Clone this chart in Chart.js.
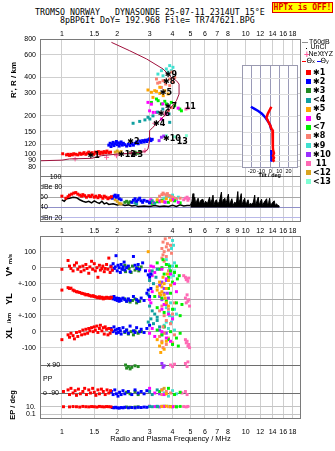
<!DOCTYPE html>
<html><head><meta charset="utf-8">
<script src="https://cdn.jsdelivr.net/npm/chart.js@4/dist/chart.umd.min.js"></script>
<style>
body{margin:0;width:335px;height:451px;overflow:hidden;background:#fff;position:relative;font-family:"Liberation Sans",Arial,sans-serif;}
canvas{position:absolute;}
.t{position:absolute;white-space:pre;color:#000;line-height:10px;}
.rot{position:absolute;white-space:pre;transform:translate(-50%,-50%) rotate(-90deg);font-weight:bold;color:#000;}
.sq{position:absolute;width:5px;height:5px;}
.lg{position:absolute;white-space:pre;font:bold 8px "DejaVu Sans",sans-serif;line-height:10px;}
</style></head><body>
<div class="t" style="left:35px;top:7px;font:8.3px 'DejaVu Sans Mono',monospace;">TROMSO NORWAY   DYNASONDE 25-07-11 2314UT 15°E</div>
<div class="t" style="left:60px;top:15px;font:8.3px 'DejaVu Sans Mono',monospace;">8pBP6It DoY= 192.968 File= TR747621.BPG</div>
<div style="position:absolute;left:272px;top:2px;width:59px;height:9px;border:1px solid #e00000;background:#ffff00;color:#e00000;font:bold 8px 'DejaVu Sans Mono',monospace;line-height:9px;text-align:center;">HPTx is OFF!</div>
<canvas id="cA" width="305" height="200" style="left:0;top:26px"></canvas>
<canvas id="cC" width="305" height="227" style="left:0;top:224px"></canvas>
<canvas id="cB" width="66" height="120" style="left:236px;top:62px"></canvas>
<div class="rot" style="left:13px;top:80px;font-size:8px;">R', R / km</div>
<div class="rot" style="left:9px;top:265px;font-size:9px;">V* <span style="font-size:6px">m/s</span></div>
<div class="rot" style="left:9px;top:299px;font-size:9px;">YL</div>
<div class="rot" style="left:9px;top:318px;font-size:6px;">/km</div>
<div class="rot" style="left:9px;top:333px;font-size:9px;">XL</div>
<div class="rot" style="left:12px;top:405px;font-size:7.5px;">EP / deg</div>
<div id="legend"></div>
<script>
// ---------------- data ----------------
const categories = ['\u27311','\u27312','\u27313','<4','\u27315',' 6','<7','\u27318','\u27319','\u273110',' 11','<12','<13'];
const catColors = ['#ff0000','#0000ff','#228b22','#10a0a0','#ffa500','#ff00ff','#00ee00','#fa8072','#40e0d0','#9b30ff','#ff69b4','#daa520','#7fffd4'];

const freqTicksTop = [1,1.5,2,3,4,5,6,7,8,10,12,14,16,18];
const freqTicksMid = [1,1.5,2,3,4,5,6,7,8,9,10,12,14,16,18];
const freqTicksBot = [1,1.5,2,3,4,5,6,7,8,10,12,14,16,18];
const heightTicks = [80,90,100,120,150,200,300,400,600,800];
const ampTicks = [100,80,60,40,20];
const ampLabels = ['     100','dBe 80','60','40','dBn 20'];
const velTicks = [100,0,-100,-200,-300,-400,-500];
const velLabels = ['100','0','+-100','0','+-100','0','-100'];
const ppTicks = [90,0,-90];
const ppLabels = ['  x 90','PP','o -90'];
const epTicks = [10,0.1];
const epLabels = ['10.','0.1'];
const tiltTicks = [-20,-10,0,10,20];

// model trace (freq MHz, height km)
const traceF = [0.76,1.0,1.1,1.45,1.64,2.02,2.49,2.83,2.94,3.0,3.0,3.13,3.55,3.86,4.2,4.34,4.34,4.2,3.94,3.55,2.89,2.34,1.86];
const traceH = [89,90,92,93,97.5,100.5,102.4,104.8,110,127.8,153,163,195,226,263,296,355,377,400,466,558,647,753];
// NeXtYZ markers
const nextF = [1.18,1.75,1.98,2.39,2.83,3.2,3.63];
const nextH = [92,94.7,97.5,103.7,106.7,175,207];

// echo heights per category [freq, km]
const heightPts = [
 [[1.01,101],[1.06,99],[1.08,100],[1.1,98],[1.12,100],[1.14,99],[1.16,101],[1.19,100],[1.22,99],[1.25,102],[1.27,100],[1.3,101],[1.32,103],[1.35,100],[1.38,102],[1.4,104],[1.43,101],[1.46,103],[1.49,100],[1.52,104],[1.55,102],[1.58,105],[1.61,101],[1.64,104],[1.67,102],[1.7,105],[1.73,103],[1.76,106],[1.8,103],[1.84,104]],
 [[1.8,118],[1.83,122],[1.85,115],[1.88,120],[1.9,124],[1.92,117],[1.95,121],[1.98,126],[2.0,119],[2.03,123],[2.05,116],[2.08,121],[2.1,125],[2.13,118],[2.16,122],[2.2,119],[2.25,116],[2.3,120],[2.35,117],[2.4,121],[2.45,118],[2.5,122],[2.55,125],[2.6,121],[2.65,127],[2.7,124],[2.75,128],[2.8,125],[2.85,129],[2.9,126],[2.95,130],[3.0,132],[3.05,128],[3.1,131]],
 [[2.35,103],[2.42,101],[2.5,104],[2.58,102],[2.65,105]],
 [[2.44,175],[2.65,181],[2.83,186],[2.94,195],[3.01,189],[3.13,200],[3.32,214],[3.54,226],[3.83,207],[3.86,178]],
 [[2.94,319],[3.07,306],[3.13,279],[3.2,315],[3.27,311],[3.41,300],[3.41,335],[3.56,288],[3.63,315],[3.78,297]],
 [[2.94,255],[3.0,219],[3.07,247],[3.14,213],[3.27,213],[3.48,189],[3.54,248],[3.7,207],[4.29,230]],
 [[3.07,255],[3.27,271],[3.34,263],[3.48,248],[3.63,260],[3.7,248],[3.94,255],[4.11,240],[4.38,226],[4.47,219]],
 [[3.27,389],[3.32,361],[3.41,366],[3.48,334],[3.55,377],[3.63,377],[3.67,355],[3.86,389],[3.86,345],[3.96,441],[4.02,366],[4.11,400],[3.8,220],[3.95,232]],
 [[3.33,425],[3.48,452],[3.55,412],[3.7,466],[3.78,441],[3.86,495],[3.94,452],[4.02,480]],
 [[3.38,128],[3.48,136],[3.58,139]],
 [[4.73,226],[4.86,230]],
 [[1.95,104],[2.0,106],[2.05,103],[2.1,105]],
 [[3.7,140],[4.11,137],[4.76,140]]
];
// echo label annotations
const annF = [1.38,2.27,2.02,2.37,3.13,3.32,3.63,4.66,3.41,3.55,3.63,3.55,4.21];
const annH = [97,124,98.8,98.8,173,209,236,236,300,366,420,132,124];
const annText = ['\u27311','\u27312','\u273112','\u27313','\u27314','\u27316','\u27317','11','\u27315','\u27318','\u27319','\u273110','13'];

// amplitude trace (freq, dB)
const ampLine = [[1.0,55],[1.03,52],[1.06,57],[1.1,58],[1.15,60],[1.2,59],[1.25,55],[1.3,52],[1.35,50],[1.4,52],[1.45,49],[1.5,53],[1.55,50],[1.6,48],[1.65,52],[1.7,47],[1.75,49],[1.8,46],[1.9,47],[2.0,45],[2.1,46],[2.2,44],[2.3,45],[2.4,43],[2.5,44],[2.6,42],[2.8,43],[3.0,42],[3.2,44],[3.4,42],[3.6,43],[3.8,42],[4.0,44],[4.2,42],[4.4,45],[4.6,43],[4.8,44],[5.0,44]];
const ampSpikes = [[5.0,44],[5.1,52],[5.17,67],[5.22,45],[5.28,60],[5.35,46],[5.45,55],[5.51,58],[5.6,47],[5.7,54],[5.85,56],[5.95,46],[6.05,52],[6.2,48],[6.36,60],[6.45,47],[6.55,55],[6.64,64],[6.72,45],[6.83,52],[6.93,55],[7.05,46],[7.2,52],[7.38,70],[7.45,46],[7.55,55],[7.71,58],[7.8,46],[7.9,54],[8.05,66],[8.15,45],[8.3,52],[8.41,57],[8.55,44],[8.7,50],[8.9,48],[9.06,71],[9.15,46],[9.3,55],[9.46,67],[9.55,45],[9.7,52],[9.87,58],[10.0,45],[10.15,50],[10.3,55],[10.45,44],[10.6,48],[10.8,46],[11.0,50],[11.2,64],[11.3,44],[11.5,52],[11.7,60],[11.85,44],[12.0,50],[12.2,56],[12.35,44],[12.6,50],[13.0,57],[13.15,44],[13.35,50],[13.5,58],[13.65,44],[13.9,48],[14.3,53],[14.5,43],[14.7,47],[14.9,45],[15.3,42]];
const ampPts = [
 [[1.0,62],[1.05,58],[1.08,61],[1.1,64],[1.13,66],[1.16,68],[1.19,69],[1.22,66],[1.25,64],[1.28,62],[1.3,65],[1.33,63],[1.36,60],[1.4,63],[1.43,61],[1.46,64],[1.5,60],[1.53,62],[1.57,59],[1.6,63],[1.63,61],[1.67,58],[1.7,62],[1.74,60],[1.78,57],[1.82,59],[1.86,61]],
 [[1.88,58],[1.92,62],[1.95,64],[1.98,60],[2.02,63],[2.05,57],[2.1,55],[2.4,50],[2.45,54],[2.5,57],[2.55,52],[2.6,55],[2.65,58],[2.7,53],[2.75,50],[2.8,54],[2.9,52],[3.0,49]],
 [[2.2,50],[2.25,52],[2.3,49],[2.35,51]],
 [[2.5,49],[2.55,47],[3.0,50],[3.1,53],[3.2,48]],
 [[3.3,55],[3.5,52],[3.7,57],[3.9,54]],
 [[3.0,52],[3.05,55],[3.15,50],[3.4,53],[3.6,51],[4.0,55],[4.3,50]],
 [[3.1,48],[3.3,51],[3.5,54],[3.8,50],[4.1,53],[4.4,49]],
 [[3.4,62],[3.5,65],[3.55,68],[3.6,66],[3.7,64],[3.75,67],[3.85,63],[3.95,61],[4.05,59],[4.2,57],[4.4,58]],
 [[3.6,58],[3.7,61],[3.8,63],[3.9,60],[4.0,64],[4.1,58],[4.2,55],[4.3,60]],
 [[3.4,51],[3.5,54],[3.65,50]],
 [[4.6,55],[4.7,58],[4.8,60],[4.85,54],[4.9,57]],
 [[1.95,55],[2.0,52],[2.05,48],[2.1,47]],
 [[3.9,56],[4.1,53]]
];

// tilt inset (deg, km)
const tiltX = [[1.3,240],[-0.5,226],[-2.5,212],[-4,197],[-2,183],[0,172],[1.3,162],[2.5,158],[2.8,140],[3,125],[3,115],[3.2,110],[4.2,104],[3,99],[4.2,96],[3.2,92],[4.5,89]];
const tiltY = [[-21,240],[-17,231],[-13,222],[-9,212],[-5,197],[-2,183],[0,172],[1.3,158],null,[1.2,110],[1.6,104],[1.2,98],[1.6,92],[1.3,89]];

// velocities V* (m/s)
const velPts = [
 [[1.0,-10],[1.08,45],[1.1,10],[1.12,-5],[1.15,-20],[1.17,15],[1.2,30],[1.22,-10],[1.25,5],[1.27,-25],[1.3,10],[1.32,-15],[1.35,20],[1.37,-5],[1.4,-35],[1.42,5],[1.45,40],[1.47,-10],[1.5,25],[1.52,-20],[1.55,0],[1.57,-60],[1.6,15],[1.62,-15],[1.65,-5],[1.67,10],[1.7,-25],[1.72,-5],[1.75,20],[1.78,-10],[1.8,60],[1.83,-30],[1.85,5],[1.88,-15]],
 [[1.85,10],[1.88,-15],[1.9,25],[1.93,-5],[1.95,5],[1.97,75],[2.0,-20],[2.02,15],[2.05,0],[2.08,-30],[2.1,20],[2.12,-10],[2.15,5],[2.18,35],[2.2,-15],[2.25,0],[2.3,10],[2.35,-25],[2.45,70],[2.5,15],[2.55,-5],[2.6,20],[2.65,-10],[2.75,30],[2.85,-20],[2.95,-45],[3.0,-60],[3.05,-40]],
 [[2.15,-10],[2.2,15],[2.22,-25],[2.28,5],[2.32,-5],[2.38,-30],[2.42,10],[2.5,-15],[2.58,0],[2.62,-20],[2.7,5]],
 [[3.0,-80],[3.05,-40],[3.15,-100],[3.25,-60],[3.3,-10],[3.1,-20]],
 [[2.95,100],[3.3,-120],[3.4,-90],[3.5,-150],[3.55,-60],[3.6,-100],[3.7,-130],[3.75,-40],[3.8,-80],[3.9,-110],[3.45,-170],[3.65,-190]],
 [[3.0,-20],[3.05,10],[3.1,-50],[3.2,-30],[3.5,-10],[3.7,-70],[3.9,-40],[4.1,-100],[4.2,-150],[3.15,5]],
 [[3.3,30],[3.4,-10],[3.5,0],[3.6,-40],[3.7,20],[3.8,-60],[3.9,-20],[4.0,-90],[4.1,-30],[4.2,10],[4.35,-50],[3.55,50],[3.85,10],[4.25,-70]],
 [[3.5,120],[3.55,160],[3.6,100],[3.65,180],[3.7,130],[3.75,150],[3.8,110],[3.85,190],[3.9,140],[3.95,90],[3.5,60],[3.6,40],[3.8,-20],[3.55,80],[3.7,70]],
 [[3.7,50],[3.8,20],[3.9,-30],[4.0,10],[4.05,-50],[3.95,120],[4.0,170],[4.05,140],[3.85,-10],[4.1,30]],
 [[3.4,-110],[3.5,-90],[3.6,-130],[3.7,-80],[3.75,-160]],
 [[4.6,-50],[4.7,-60],[4.75,-75],[4.8,-70],[4.85,-85],[4.9,-65]],
 [],
 [[3.9,-60],[4.1,-20]]
];
// YL (km)
const ylPts = [
 [[1.0,60],[1.08,75],[1.1,70],[1.12,72],[1.15,60],[1.17,55],[1.2,50],[1.22,48],[1.25,45],[1.28,40],[1.3,38],[1.33,35],[1.35,30],[1.38,32],[1.4,28],[1.42,25],[1.45,22],[1.48,25],[1.5,20],[1.52,18],[1.55,15],[1.57,12],[1.6,18],[1.62,10],[1.65,15],[1.68,5],[1.7,12],[1.72,8],[1.75,15],[1.78,10],[1.8,12],[1.83,8],[1.86,15]],
 [[1.85,15],[1.9,5],[1.92,20],[1.95,0],[1.98,10],[2.0,-5],[2.03,8],[2.05,-10],[2.08,5],[2.1,-5],[2.15,10],[2.2,0],[2.25,-10],[2.3,5],[2.35,-5],[2.45,20],[2.55,0],[2.6,-10],[2.7,10],[2.8,-5],[2.9,40],[2.95,60],[3.0,20],[3.05,70]],
 [[2.2,5],[2.25,-10],[2.3,0],[2.35,-15],[2.42,-5],[2.5,5],[2.55,-20],[2.65,-10]],
 [[2.95,30],[3.0,-40],[3.1,-70],[3.2,-90],[3.3,-110]],
 [[3.3,60],[3.4,40],[3.5,80],[3.6,30],[3.7,-20],[3.8,-40],[3.45,100]],
 [[3.0,0],[3.05,-20],[3.1,50],[3.5,-60],[3.6,-30],[3.8,-90],[4.0,-120]],
 [[3.2,20],[3.3,-50],[3.5,10],[3.6,-80],[3.7,-10],[3.9,40],[4.0,-60],[4.2,-20],[4.4,-100],[4.5,-30],[3.8,70]],
 [[3.4,-70],[3.5,-40],[3.6,-100],[3.7,-130],[3.8,-60],[3.9,-150],[4.0,-90],[4.1,-20],[3.55,-170]],
 [[3.7,-50],[3.8,-80],[3.9,-20],[4.0,-110],[4.1,-60],[4.2,-90],[3.95,-140]],
 [[3.4,20],[3.5,0],[3.6,40],[3.7,-30],[3.8,10]],
 [[4.7,10],[4.75,-20],[4.8,30],[4.85,-10],[4.9,0],[4.95,-40]],
 [],
 []
];
// XL (km)
const xlPts = [
 [[1.0,-50],[1.08,-20],[1.1,-35],[1.12,-10],[1.15,-25],[1.17,-45],[1.2,-5],[1.22,-30],[1.25,0],[1.28,-20],[1.3,10],[1.33,-15],[1.35,15],[1.38,-10],[1.4,20],[1.42,5],[1.45,25],[1.48,0],[1.5,30],[1.52,10],[1.55,35],[1.57,-5],[1.6,20],[1.62,40],[1.65,5],[1.68,25],[1.7,-15],[1.72,30],[1.75,15],[1.78,-20],[1.8,20],[1.83,-10],[1.86,10]],
 [[1.85,20],[1.9,0],[1.92,30],[1.95,10],[1.98,-10],[2.0,15],[2.03,-5],[2.05,20],[2.08,5],[2.1,-15],[2.15,25],[2.2,0],[2.25,10],[2.3,-10],[2.35,35],[2.45,5],[2.5,-5],[2.55,25],[2.65,0],[2.7,15],[2.8,-5],[2.9,20],[3.0,40]],
 [[2.2,-5],[2.25,10],[2.3,-15],[2.38,0],[2.45,-20],[2.5,5],[2.6,-10],[2.7,0]],
 [[2.95,60],[3.05,80],[3.15,50],[3.3,70],[3.4,30]],
 [[3.3,-50],[3.4,-90],[3.5,-70],[3.6,-110],[3.7,-60],[3.45,-130]],
 [[3.0,-10],[3.1,20],[3.2,-30],[3.5,0],[3.7,-40],[3.9,-60]],
 [[3.3,10],[3.5,-20],[3.6,30],[3.8,-50],[3.9,0],[4.0,-80],[4.2,-40],[4.4,-10],[4.3,-90]],
 [[3.4,-30],[3.5,-60],[3.6,-10],[3.7,-80],[3.8,-40],[4.0,-70],[4.1,-20],[3.55,-100]],
 [[3.6,40],[3.7,60],[3.8,20],[3.9,50],[4.0,80],[4.1,10],[3.85,100]],
 [[3.4,10],[3.5,-20],[3.6,30],[3.7,-10]],
 [[4.7,-50],[4.75,-70],[4.8,-60],[4.85,-90],[4.9,-80],[4.95,-100]],
 [],
 []
];
// polarisation PP (deg)
const ppPts = [
 [[1.02,-80],[1.08,-70],[1.1,-100],[1.12,-60],[1.15,-90],[1.18,-75],[1.2,-105],[1.23,-65],[1.26,-95],[1.3,-80],[1.33,-60],[1.36,-100],[1.4,-70],[1.43,-90],[1.47,-60],[1.5,-85],[1.53,-105],[1.57,-70],[1.6,-95],[1.64,-65],[1.68,-80],[1.72,-100],[1.76,-70],[1.8,-90],[1.84,-75]],
 [[1.86,-80],[1.9,-100],[1.94,-70],[1.98,-95],[2.02,-110],[2.06,-85],[2.1,-100],[2.15,-75],[2.2,-95],[2.3,-80],[2.4,-100],[2.5,-70],[2.6,-90],[2.7,-80],[2.8,-95],[2.9,-75]],
 [[2.22,90],[2.25,70],[2.3,80],[2.35,65],[2.4,75],[2.5,85],[2.6,80],[2.25,-85],[2.35,-95],[2.5,-80],[2.6,-100]],
 [[3.0,-80],[3.1,-100],[3.3,-70]],
 [[3.5,-70],[3.7,-95]],
 [[3.0,-60],[3.2,-90],[3.6,-100]],
 [[3.4,-80],[3.8,-60],[4.1,-100],[4.4,-85]],
 [[3.5,-100],[3.7,-80],[3.9,-90]],
 [[3.6,-90],[3.8,-110],[4.0,-75],[4.2,-95]],
 [[3.5,100],[3.55,75],[3.6,85],[3.4,-95],[3.5,-70]],
 [[3.9,90],[4.0,80],[4.1,95],[4.7,100],[4.8,80],[4.85,110],[4.5,-90],[4.7,-80],[4.8,-100]],
 [[3.6,-60]],
 []
];
// EP (deg)
const epPts = [
 [[1.02,10],[1.1,9],[1.15,11],[1.2,10],[1.25,8],[1.3,12],[1.35,10],[1.4,9],[1.45,11],[1.5,10],[1.55,8],[1.6,12],[1.65,10],[1.7,9],[1.75,11],[1.8,10],[1.85,9]],
 [[1.88,6],[1.92,5],[1.96,7],[2.0,5],[2.05,4],[2.1,6],[2.15,5],[2.2,7],[2.3,5],[2.4,6],[2.5,5],[2.6,7],[2.7,6],[2.8,8],[2.9,7]],
 [[2.25,8],[2.35,7],[2.5,8],[2.6,9]],
 [[3.0,12],[3.1,10],[3.3,13]],
 [[3.5,11],[3.7,14],[3.9,10]],
 [[3.0,14],[3.2,11],[3.6,12],[4.0,10]],
 [[3.3,10],[3.6,13],[3.9,11],[4.2,9],[4.4,12]],
 [[3.5,13],[3.8,10],[4.1,12]],
 [[3.6,11],[3.8,13],[4.0,10],[4.2,12]],
 [[3.4,9],[3.5,12]],
 [[4.6,11],[4.75,9],[4.85,12]],
 [[3.6,12]],
 [[3.9,11]]
];

// ---------------- helpers ----------------
const xy = a => a.map(p => p ? {x:p[0], y:p[1]} : {x:null, y:null});
function scat(list, axis){
  const out=[];
  list.forEach((pts,i)=>{ if(!pts.length) return;
    out.push({type:'scatter', label:categories[i], data:xy(pts), yAxisID:axis, xAxisID:'x',
      pointStyle:'rect', pointRadius:2.1, pointHoverRadius:2.1, backgroundColor:catColors[i], borderWidth:0, showLine:false});
  });
  return out;
}
const tickFont = {family:'"Liberation Sans", Arial, sans-serif', size:7};
const setTicks = arr => (s => { s.ticks = arr.map(v=>({value:v})); });
const noPad = s => { s.paddingTop=0; s.paddingBottom=0; s.paddingLeft=0; s.paddingRight=0; };
const fitW = w => (s => { s.width=w; noPad(s); });
const fitH = h => (s => { s.height=h; noPad(s); });
const framePlugin = {id:'frame', afterDraw(c, a, o){
  const r=c.chartArea, ctx=c.ctx; ctx.save(); ctx.strokeStyle=o.color||'#808080'; ctx.lineWidth=1;
  ctx.strokeRect(Math.round(r.left)+0.5, Math.round(r.top)+0.5, Math.round(r.right-r.left)-1, Math.round(r.bottom-r.top)-1); ctx.restore(); }};
const bgPlugin = {id:'bg', beforeDraw(c, a, o){ if(!o.color) return; const r=c.chartArea, ctx=c.ctx; ctx.save(); ctx.fillStyle=o.color; ctx.fillRect(r.left,r.top,r.right-r.left,r.bottom-r.top); ctx.restore(); }};
const annPlugin = {id:'ann', afterDatasetsDraw(c){
  const ctx=c.ctx; ctx.save(); ctx.fillStyle='#000'; ctx.font='bold 8px "DejaVu Sans", sans-serif'; ctx.textBaseline='middle'; ctx.textAlign='left';
  annText.forEach((t,i)=>{ ctx.fillText(t, c.scales.x.getPixelForValue(annF[i]), c.scales.yH.getPixelForValue(annH[i])); });
  ctx.restore(); }};
Chart.register(framePlugin, bgPlugin);

const xFreq = (ticks, pos, height, extra) => Object.assign({
  type:'logarithmic', position:pos, min:0.76, max:20,
  afterBuildTicks:setTicks(ticks), afterFit:fitH(height),
  ticks:{autoSkip:false, maxRotation:0, minRotation:0, font:tickFont, color:'#000', padding:1, callback:v=>String(v)},
  grid:{color:'#cfcfcf', drawTicks:false}, border:{display:false}
}, extra||{});

const common = {responsive:false, animation:false, events:[],
  plugins:{legend:{display:false}, tooltip:{enabled:false}, frame:{color:'#7a7a7a'}}};

// ---------------- top chart ----------------
new Chart(document.getElementById('cA'), {
  type:'scatter',
  data:{datasets:[
    {type:'line', data:xy(traceF.map((f,i)=>[f,traceH[i]])), yAxisID:'yH', borderColor:'#a0103c', borderWidth:1, pointRadius:0, fill:false, tension:0},
    {type:'scatter', data:xy(nextF.map((f,i)=>[f,nextH[i]])), yAxisID:'yH', pointStyle:'cross', pointRadius:2.5, borderColor:'#ff5a9a', borderWidth:1},
    ...scat(heightPts,'yH'),
    ...scat(ampPts,'yA'),
    {type:'line', data:xy(ampLine), yAxisID:'yA', borderColor:'#000', borderWidth:1.5, pointRadius:0, fill:false},
    {type:'line', data:xy(ampSpikes), yAxisID:'yA', borderColor:'#000', borderWidth:1, pointRadius:0, backgroundColor:'#000', fill:{value:40}}
  ]},
  options:Object.assign({}, common, {
    layout:{padding:{left:0,right:4,top:0,bottom:4}, autoPadding:false},
    scales:{
      x:xFreq(freqTicksTop,'top',13),
      yH:{type:'logarithmic', position:'left', weight:10, min:29.5, max:800,
        afterBuildTicks:setTicks(heightTicks), afterFit:fitW(40),
        ticks:{font:tickFont, color:'#000', padding:4, callback:v=>String(v)},
        grid:{color:'#cfcfcf', drawTicks:false}, border:{display:false}},
      yA:{type:'linear', position:'left', weight:0, min:11.6, max:368.7,
        afterBuildTicks:setTicks(ampTicks), afterFit:fitW(0),
        ticks:{font:tickFont, color:'#000', padding:0, mirror:true, callback:(v,i)=>ampLabels[i]},
        grid:{drawTicks:false, color:c=>({100:'#7a7a7a',80:'#cfcfcf',60:'#a8a8a8',40:'#9090c8',20:'#b8b8e8'})[c.tick.value]||'#cfcfcf'}, border:{display:false}}
    }
  }),
  plugins:[annPlugin]
});

// ---------------- tilt inset ----------------
new Chart(document.getElementById('cB'), {
  type:'scatter',
  data:{datasets:[
    {type:'line', label:'\u0398x', data:xy(tiltX), borderColor:'#ff0000', borderWidth:2.5, pointRadius:0, fill:false, spanGaps:false},
    {type:'line', label:'\u0398y', data:xy(tiltY), borderColor:'#0000ff', borderWidth:2.5, pointRadius:0, fill:false, spanGaps:false}
  ]},
  options:Object.assign({}, common, {
    plugins:{legend:{display:false}, tooltip:{enabled:false}, frame:{color:'#9a9ab0'}, bg:{color:'#ffffff'}},
    layout:{padding:{left:5.7,right:4.3,top:3,bottom:3.2}, autoPadding:false},
    scales:{
      x:{type:'linear', position:'bottom', min:-31, max:30, afterBuildTicks:setTicks(tiltTicks), afterFit:fitH(11.1),
        ticks:{autoSkip:false, maxRotation:0, font:{family:'"Liberation Sans", Arial, sans-serif', size:5.5}, color:'#000', padding:0},
        title:{display:true, text:'Tilt / deg', font:{family:'"Liberation Sans", Arial, sans-serif', size:5.5, weight:'bold'}, color:'#000', padding:0},
        grid:{color:'#9a9ab8', drawTicks:false}, border:{display:false}},
      y:{type:'logarithmic', position:'left', min:80, max:509, afterBuildTicks:setTicks([90,100,120,150,200,300,400]), afterFit:fitW(0),
        ticks:{display:false}, grid:{color:'#dddddd', drawTicks:false}, border:{display:false}}
    }
  })
});

// ---------------- lower chart ----------------
new Chart(document.getElementById('cC'), {
  type:'scatter',
  data:{datasets:[
    ...scat(velPts,'yV'), ...scat(ylPts,'yYL'), ...scat(xlPts,'yXL'), ...scat(ppPts,'yPP'), ...scat(epPts,'yEP')
  ]},
  options:Object.assign({}, common, {
    layout:{padding:{left:0,right:4,top:0,bottom:7.5}, autoPadding:false},
    scales:{
      x:xFreq(freqTicksMid,'top',12),
      x2:xFreq(freqTicksBot,'bottom',24.5,{grid:{display:false}, border:{display:false},
        title:{display:true, text:'Radio and Plasma Frequency / MHz', font:{family:'"Liberation Sans", Arial, sans-serif', size:7.5}, color:'#000', padding:0}}),
      yV:{type:'linear', position:'left', weight:10, min:-946, max:198,
        afterBuildTicks:setTicks(velTicks), afterFit:fitW(40),
        ticks:{font:tickFont, color:'#000', padding:4, callback:(v,i)=>velLabels[i]},
        grid:{drawTicks:false, color:c=>(c.tick.value===0||c.tick.value===-200||c.tick.value===-400)?'#ababab':'#d4d4d4'}, border:{display:false}},
      yYL:{type:'linear', display:false, min:-746, max:398},
      yXL:{type:'linear', display:false, min:-546, max:598},
      yPP:{type:'linear', position:'left', weight:0, min:-257, max:919,
        afterBuildTicks:setTicks(ppTicks), afterFit:fitW(0),
        ticks:{font:tickFont, color:'#000', padding:3, mirror:true, callback:(v,i)=>ppLabels[i]},
        grid:{drawTicks:false, color:c=>c.tick.value===0?'rgba(0,0,0,0)':'#6e6e6e'}, border:{display:false}},
      yEP:{type:'logarithmic', position:'left', weight:1, min:0.0043, max:6e47,
        afterBuildTicks:setTicks(epTicks), afterFit:fitW(0),
        ticks:{font:tickFont, color:'#000', padding:-14, mirror:true, callback:(v,i)=>epLabels[i]},
        grid:{drawTicks:false, color:'#c4c4c4'}, border:{display:false}}
    }
  })
});

// ---------------- legend (html) ----------------
(function(){
  const L=document.getElementById('legend'); let h='';
  h+='<div style="position:absolute;left:302px;top:42px;width:6px;height:1px;background:#909090"></div>';
  h+='<div class="t" style="left:309px;top:38px;font:7px \'Liberation Sans\',Arial">T60dB</div>';
  h+='<div style="position:absolute;left:306px;top:48px;width:1px;height:1px;background:#000"></div>';
  h+='<div class="t" style="left:310.5px;top:43px;font:7px \'Liberation Sans\',Arial">UnCl</div>';
  h+='<div class="t" style="left:303.5px;top:50px;font:bold 8px \'DejaVu Sans\';color:#ff5a9a">+</div>';
  h+='<div class="t" style="left:308.5px;top:50px;font:7px \'Liberation Sans\',Arial">NeXtYZ</div>';
  h+='<div style="position:absolute;left:302px;top:61px;width:4px;height:1px;background:#ff0000"></div>';
  h+='<div class="t" style="left:306.5px;top:56.5px;font:7px \'DejaVu Sans\'">\u0398<span style="font-size:5px">x</span></div>';
  h+='<div style="position:absolute;left:316.5px;top:61px;width:4px;height:1px;background:#0000ff"></div>';
  h+='<div class="t" style="left:320.5px;top:56.5px;font:7px \'DejaVu Sans\'">\u0398<span style="font-size:5px">y</span></div>';
  categories.forEach((c,i)=>{
    const y=72.7+i*9.1;
    h+='<div class="sq" style="left:306px;top:'+(y-2.5)+'px;background:'+catColors[i]+'"></div>';
    h+='<div class="lg" style="left:313px;top:'+(y-5)+'px">'+c.replace('<','&lt;')+'</div>';
  });
  L.innerHTML=h;
})();
</script>
</body></html>
